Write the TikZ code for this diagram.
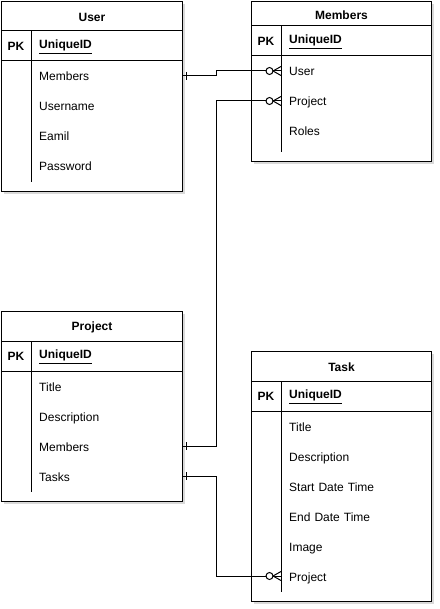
\documentclass[tikz,border=0pt]{standalone}
\usepackage{fontspec}
\setmainfont{Liberation Sans}
\usetikzlibrary{calc,shadows}
\tikzset{
  x=1pt, y=-1pt,
  ln/.style={draw=black, line width=1pt},
  entbox/.style={ln, fill=white, rectangle, inner sep=0pt,
    drop shadow={shadow xshift=2.5pt, shadow yshift=-2.5pt, opacity=0.15, fill=black}},
  hdr/.style={font=\fontsize{12pt}{14pt}\selectfont\bfseries, inner sep=0pt, yshift=-0.8pt},
  pk/.style={font=\fontsize{12pt}{14pt}\selectfont\bfseries, inner sep=0pt, yshift=-0.8pt},
  keyname/.style={font=\fontsize{12pt}{14pt}\selectfont\bfseries, inner sep=0pt, anchor=west, yshift=-0.8pt},
  ertrow/.style={font=\fontsize{12pt}{14pt}\selectfont, anchor=west, inner xsep=8pt,
    inner ysep=0pt, text width=#1, align=left, text height=11pt, text depth=1pt},
}
\newcommand\ERtable[7]{%
  \node[entbox, minimum width=#4pt, minimum height=#5pt, anchor=north west] (#1) at (#2,#3) {};
  \node[hdr] (#1-title) at ($(#1.north)+(0,#6/2+0.5)$) {#7};
  \draw[ln] ($(#1.north west)+(0,#6)$) -- ($(#1.north east)+(0,#6)$);
  \draw[ln] ($(#1.north west)+(0,#6+30)$) -- ($(#1.north east)+(0,#6+30)$);
  \draw[ln] ($(#1.north west)+(30,#6)$) -- ($(#1.south west)+(30,-10)$);
  \node[pk] (#1-pk) at ($(#1.north west)+(15,#6+15)$) {PK};
  \node[keyname] (#1-id) at ($(#1.north west)+(38,#6+15)$) {\underline{UniqueID}};
}
\begin{document}
\begin{tikzpicture}
\useasboundingbox (0,0) rectangle (439,609);

% User
\ERtable{user}{1}{1}{181}{190}{30}{User}
\node[ertrow=135pt] (user-members)  at (31,76)  {Members};
\node[ertrow=135pt] (user-username) at (31,106) {Username};
\node[ertrow=135pt] (user-email)    at (31,136) {Eamil};
\node[ertrow=135pt] (user-password) at (31,166) {Password};

% Members
\ERtable{mem}{251}{1}{180}{160}{25}{Members}
\node[ertrow=134pt] (mem-user)    at (281,71)  {User};
\node[ertrow=134pt] (mem-project) at (281,101) {Project};
\node[ertrow=134pt] (mem-roles)   at (281,131) {Roles};

% Project
\ERtable{proj}{1}{311}{181}{190}{30}{Project}
\node[ertrow=135pt] (proj-title)   at (31,386) {Title};
\node[ertrow=135pt] (proj-desc)    at (31,416) {Description};
\node[ertrow=135pt] (proj-members) at (31,446) {Members};
\node[ertrow=135pt] (proj-tasks)   at (31,476) {Tasks};

% Task
\ERtable{task}{251}{351}{180}{250}{30}{Task}
\node[ertrow=134pt] (task-title)   at (281,426) {Title};
\node[ertrow=134pt] (task-desc)    at (281,456) {Description};
\node[ertrow=134pt] (task-start)   at (281,486) {Start Date Time};
\node[ertrow=134pt] (task-end)     at (281,516) {End Date Time};
\node[ertrow=134pt] (task-image)   at (281,546) {Image};
\node[ertrow=134pt] (task-project) at (281,576) {Project};

% connectors
\draw[ln] (user-members.east) -- ++(34.5,0) |- (mem-user.west);
\draw[ln] (proj-members.east) -- ++(34.5,0) |- (mem-project.west);
\draw[ln] (proj-tasks.east) -- ++(34.5,0) |- (task-project.west);

% "one" marks
\foreach \n in {user-members, proj-members, proj-tasks}{
  \draw[ln] ($(\n.east)+(4,-4)$) -- ($(\n.east)+(4,4)$);
}
% "zero or many" marks
\foreach \n in {mem-user, mem-project, task-project}{
  \draw[ln, fill=white] ($(\n.west)+(-11.5,0)$) circle[radius=3.5pt];
  \draw[ln] ($(\n.west)+(0,-4.5)$) -- ($(\n.west)+(-8,0)$) -- ($(\n.west)+(0,4.5)$);
}
\end{tikzpicture}
\end{document}
